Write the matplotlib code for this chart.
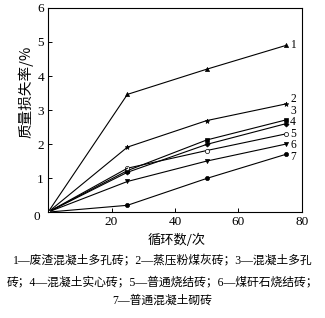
import matplotlib
matplotlib.use("Agg")
import matplotlib.pyplot as plt

plt.rcParams['font.family'] = ['Liberation Serif', 'Noto Sans CJK SC']

cycles = [0, 25, 50, 75]
loss_1 = [0, 3.46, 4.2, 4.9]
loss_2 = [0, 1.91, 2.69, 3.18]
loss_3 = [0, 1.22, 2.12, 2.71]
loss_4 = [0, 1.17, 1.99, 2.6]
loss_5 = [0, 1.29, 1.81, 2.3]
loss_6 = [0, 0.9, 1.5, 2.0]
loss_7 = [0, 0.2, 0.99, 1.7]
series_labels = ['1', '2', '3', '4', '5', '6', '7']
label_y = [4.91, 3.33, 2.98, 2.64, 2.3, 1.96, 1.62]

caption = ["1—废渣混凝土多孔砖；2—蒸压粉煤灰砖；3—混凝土多孔",
           "砖；4—混凝土实心砖；5—普通烧结砖；6—煤矸石烧结砖；",
           "7—普通混凝土砌砖"]

fig = plt.figure(figsize=(3.25, 3.18), dpi=100)
ax = fig.add_axes([0.148, 0.333, 0.781, 0.642])

series = [loss_1, loss_2, loss_3, loss_4, loss_5, loss_6, loss_7]
markers = ['^', '*', 's', 'D', 'o', 'v', 'o']
fills = ['k', 'k', 'k', 'k', 'white', 'k', 'k']
sizes = [3, 3.5, 3, 2.6, 3, 3, 3]
for ys, m, fc, ms in zip(series, markers, fills, sizes):
    ax.plot(cycles[1:], ys[1:], color='k', lw=0.8, marker=m, ms=ms,
            mfc=fc, mec='k', mew=0.5)
    ax.plot(cycles[:2], ys[:2], color='k', lw=0.8)
ax.plot([0], [0], marker='s', ms=3.5, mfc='white', mec='k', mew=0.5)

for lab, ly in zip(series_labels, label_y):
    ax.text(76.3, ly, lab, fontsize=8.3, va='center', ha='left')

ax.set_xlim(0, 80)
ax.set_ylim(0, 6)
ax.set_xticks([0, 20, 40, 60, 80])
ax.set_yticks([0, 1, 2, 3, 4, 5, 6])
ax.tick_params(direction='in', labelsize=9.5, length=3, width=0.7, pad=3)
ax.set_xticklabels(['', '20', '40', '60', '80'])
ax.set_yticklabels(['', '1', '2', '3', '4', '5', '6'])
ax.text(-0.045, -0.025, '0', transform=ax.transAxes, fontsize=9.5, ha='center', va='center')
for s in ax.spines.values():
    s.set_linewidth(0.8)

fig.text(0.08, 0.71, '质量损失率/%', rotation=90, ha='center', va='center',
         fontsize=10.5, family=['Noto Sans CJK SC', 'Liberation Serif'])
fig.text(0.545, 0.245, '循环数/次', ha='center', va='center',
         fontsize=9.5, family=['Noto Sans CJK SC', 'Liberation Serif'])
cap_y = [0.182, 0.113, 0.053]
for line, cy in zip(caption, cap_y):
    fig.text(0.5, cy, line, ha='center', va='center', fontsize=8.5,
             family=['Liberation Serif', 'Noto Sans CJK SC'])

fig.savefig('out.png', dpi=100)
